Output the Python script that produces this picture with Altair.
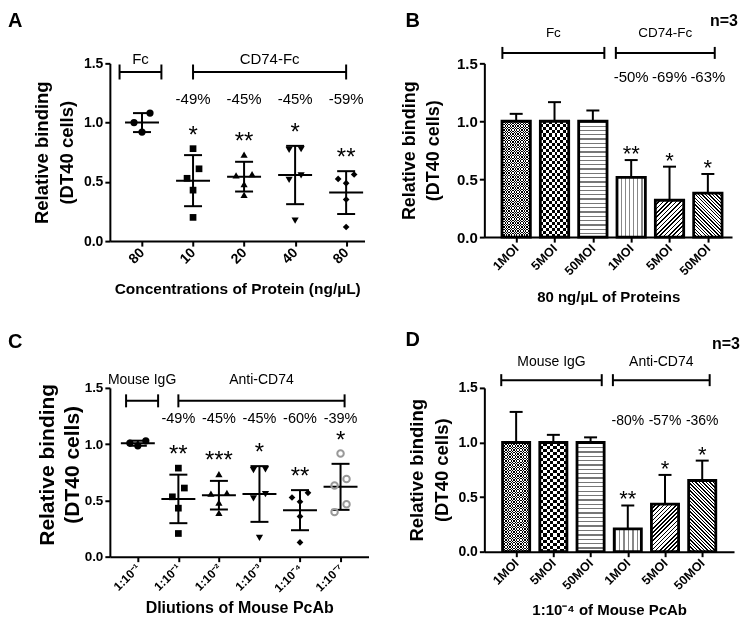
import json
import math
import altair as alt
import numpy as np
import pandas as pd

FONT = "Liberation Sans"

# ---------------- Panel A data ----------------
A_labels = ["80", "10", "20", "40", "80"]
A_fc_80 = [1.08, 1.00, 0.92]
A_cd74_10 = [0.78, 0.61, 0.53, 0.43, 0.20]
A_cd74_20 = [0.73, 0.565, 0.554, 0.48, 0.39]
A_cd74_40 = [0.775, 0.77, 0.554, 0.516, 0.173]
A_cd74_80 = [0.562, 0.525, 0.489, 0.351, 0.119]
A_series = [A_fc_80, A_cd74_10, A_cd74_20, A_cd74_40, A_cd74_80]
A_pct = ["", "-49%", "-45%", "-45%", "-59%"]
A_stars = ["", "*", "**", "*", "**"]
A_groups = ["Fc", "CD74-Fc"]
A_members = [[0], [1, 2, 3, 4]]
A_xtitle = "Concentrations of Protein (ng/µL)"

# ---------------- Panel B data ----------------
B_labels = ["1MOI", "5MOI", "50MOI", "1MOI", "5MOI", "50MOI"]
B_mean = [1.0, 1.0, 1.0, 0.515, 0.318, 0.38]
B_sd = [0.064, 0.165, 0.093, 0.15, 0.29, 0.165]
B_pct = ["", "", "", "-50%", "-69%", "-63%"]
B_stars = ["", "", "", "**", "*", "*"]
B_groups = ["Fc", "CD74-Fc"]
B_members = [[0, 1, 2], [3, 4, 5]]
B_xtitle = "80 ng/µL of Proteins"

# ---------------- Panel C data ----------------
C_labels = ["1:10⁻¹", "1:10⁻¹", "1:10⁻²", "1:10⁻³", "1:10⁻⁴", "1:10⁻⁷"]
C_igg = [1.03, 1.01, 0.985]
C_anti_1 = [0.787, 0.61, 0.532, 0.431, 0.206]
C_anti_2 = [0.734, 0.567, 0.561, 0.48, 0.39]
C_anti_3 = [0.775, 0.769, 0.555, 0.518, 0.168]
C_anti_4 = [0.567, 0.526, 0.488, 0.358, 0.127]
C_anti_7 = [0.917, 0.691, 0.633, 0.466, 0.396]
C_series = [C_igg, C_anti_1, C_anti_2, C_anti_3, C_anti_4, C_anti_7]
C_pct = ["", "-49%", "-45%", "-45%", "-60%", "-39%"]
C_stars = ["", "**", "***", "*", "**", "*"]
C_groups = ["Mouse IgG", "Anti-CD74"]
C_members = [[0], [1, 2, 3, 4, 5]]
C_xtitle = "Dliutions of Mouse PcAb"

# ---------------- Panel D data ----------------
D_labels = ["1MOI", "5MOI", "50MOI", "1MOI", "5MOI", "50MOI"]
D_mean = [1.0, 1.0, 1.0, 0.209, 0.435, 0.652]
D_sd = [0.28, 0.07, 0.047, 0.214, 0.268, 0.182]
D_pct = ["", "", "", "-80%", "-57%", "-36%"]
D_stars = ["", "", "", "**", "*", "*"]
D_groups = ["Mouse IgG", "Anti-CD74"]
D_members = [[0, 1, 2], [3, 4, 5]]
D_xtitle = "1:10⁻⁴ of Mouse PcAb"

Y_TITLE = ["Relative binding", "(DT40 cells)"]

# ---------------- layout / style ----------------
LAY = {
    "A": dict(W=255, H=178, xdom=(-0.63, 4.36), ytx=-68, yshift=0, ytfs=18.5, ylh=25,
              ylfs=14, xlfs=14, xtfs=15.5, xty=47, grp_fs=15, pct_fs=15, star_fs=24,
              star_dy=-6, lab_y=1.533, br_y=1.427, pct_y=1.2, br_half=7.5,
              letter=(-102, -52), pads=[(0.44, 0.38), (0.0, 0.0)]),
    "B": dict(W=248, H=174, xdom=(-0.70, 5.50), ytx=-75, yshift=0, ytfs=18, ylh=24,
              ylfs=15, xlfs=12.5, xtfs=15, xty=59, grp_fs=13.5, pct_fs=15, star_fs=22,
              star_dy=1, lab_y=1.766, br_y=1.59, pct_y=1.386, br_half=6,
              letter=(-79, -52), nlabel=-42, pads=[(0.36, 0.30), (0.40, 0.18)], bw=0.71),
    "C": dict(W=259, H=169, xdom=(-0.69, 5.69), ytx=-62, yshift=-8, ytfs=21, ylh=25,
              ylfs=13.5, xlfs=12, xtfs=16, xty=51, grp_fs=14, pct_fs=14.5, star_fs=24,
              star_dy=-6, lab_y=1.572, br_y=1.385, pct_y=1.225, br_half=6.5,
              letter=(-102, -56), pads=[(0.29, 0.5), (0.0, 0.1)]),
    "D": dict(W=250, H=164, xdom=(-0.72, 5.72), ytx=-68, yshift=0, ytfs=18.5, ylh=25,
              ylfs=14, xlfs=12.5, xtfs=15, xty=58, grp_fs=14, pct_fs=14, star_fs=22,
              star_dy=1, lab_y=1.736, br_y=1.571, pct_y=1.2, br_half=6,
              letter=(-79, -58), nlabel=-44, pads=[(0.40, 0.30), (0.40, 0.2)], bw=0.70),
}

C_MARKS = [
    dict(shape="circle", size=52, filled=True, color="black"),
    dict(shape="square", size=45, filled=True, color="black"),
    dict(shape="triangle-up", size=52, filled=True, color="black"),
    dict(shape="triangle-down", size=52, filled=True, color="black"),
    dict(shape="diamond", size=45, filled=True, color="black"),
    dict(shape="circle", size=42, filled=False, color="#999999", strokeWidth=2),
]

PATTERNS = ["fine", "checker", "hlines", "vlines", "diag_up", "diag_down"]


def lane_px(vals, thr=0.085):
    order = sorted(range(len(vals)), key=lambda i: -vals[i])
    clusters, cur = [], [order[0]]
    for i in order[1:]:
        if vals[cur[-1]] - vals[i] < thr:
            cur.append(i)
        else:
            clusters.append(cur)
            cur = [i]
    clusters.append(cur)
    pats = {1: [0], 2: [6, -6], 3: [8, -8, 0]}
    out = [0.0] * len(vals)
    for c in clusters:
        p = pats.get(len(c), [7 * (k - (len(c) - 1) / 2) for k in range(len(c))])
        for i, o in zip(c, p):
            out[i] = o
    return out


def axes(lay, labels, xtitle):
    W, H = lay["W"], lay["H"]
    n = len(labels)
    xaxis = alt.Axis(
        values=list(range(n)), labelExpr=f"{json.dumps(labels, ensure_ascii=False)}[datum.value]",
        labelAngle=315, labelAlign="right", labelBaseline="middle", labelPadding=4,
        labelFontSize=lay["xlfs"], labelFontWeight="bold", labelFlush=False, labelOverlap=False,
        tickSize=5, tickWidth=2, tickColor="black", domainColor="black", domainWidth=2,
        labelColor="black", grid=False, title=xtitle, titleFontSize=lay["xtfs"],
        titleFontWeight="bold", titleColor="black", titleX=W / 2, titleY=lay["xty"],
        titleAlign="center", titleBaseline="middle")
    yaxis = alt.Axis(
        values=[0, 0.5, 1.0, 1.5], format=".1f", labelFontSize=lay["ylfs"], labelFontWeight="bold",
        labelPadding=2, labelOverlap=False, labelFlush=False, tickSize=5, tickWidth=2,
        tickColor="black", domainColor="black", domainWidth=2, labelColor="black", grid=False,
        title=Y_TITLE, titleFontSize=lay["ytfs"], titleFontWeight="bold", titleColor="black",
        titleLineHeight=lay["ylh"], titleAngle=270, titleX=lay["ytx"], titleY=H / 2 + lay["yshift"],
        titleAlign="center", titleBaseline="middle")
    xs = alt.Scale(domain=list(lay["xdom"]), nice=False, zero=False)
    ys = alt.Scale(domain=[0, 1.5], nice=False, zero=True)

    def X(f):
        return alt.X(f, type="quantitative", scale=xs, axis=xaxis)

    def Y(f):
        return alt.Y(f, type="quantitative", scale=ys, axis=yaxis)

    return X, Y


def annotations(lay, X, Y, groups, members, pct, stars_df, letter, nlabel=None):
    layers = []
    rows = []
    for name, mem, (pl, pr) in zip(groups, members, lay["pads"]):
        bx1, bx2 = min(mem) - pl, max(mem) + pr
        rows.append(dict(name=name, bx1=bx1, bx2=bx2, bmid=(bx1 + bx2) / 2,
                         by=lay["br_y"], ly=lay["lab_y"]))
    br = pd.DataFrame(rows)
    h = lay["br_half"]
    layers.append(alt.Chart(br).mark_rule(color="black", strokeWidth=2).encode(
        x=X("bx1"), x2=alt.X2("bx2"), y=Y("by")))
    for f in ("bx1", "bx2"):
        layers.append(alt.Chart(br).mark_rule(color="black", strokeWidth=2, yOffset=-h, y2Offset=h).encode(
            x=X(f), y=Y("by"), y2=alt.Y2("by")))
    layers.append(alt.Chart(br).mark_text(fontSize=lay["grp_fs"], baseline="middle", color="black").encode(
        x=X("bmid"), y=Y("ly"), text="name:N"))
    layers.append(alt.Chart(stars_df).mark_text(fontSize=lay["pct_fs"], baseline="middle", color="black").encode(
        x=X("i"), y=Y("pct_y"), text="pct:N"))
    layers.append(alt.Chart(stars_df).mark_text(fontSize=lay["star_fs"], baseline="alphabetic",
                                                dy=lay["star_dy"], color="black").encode(
        x=X("i"), y=Y("top"), text="star:N"))
    lx, ly = lay["letter"]
    layers.append(alt.Chart(pd.DataFrame({"t": [letter]})).mark_text(
        fontSize=20, fontWeight="bold", align="left", baseline="top", color="black").encode(
        x=alt.value(lx), y=alt.value(ly), text="t:N"))
    if nlabel is not None:
        layers.append(alt.Chart(pd.DataFrame({"t": ["n=3"]})).mark_text(
            fontSize=16, fontWeight="bold", align="right", baseline="middle", color="black").encode(
            x=alt.value(lay["W"] + 6), y=alt.value(nlabel), text="t:N"))
    return layers


def scatter_panel(key, labels, series, pct, stars, groups, members, xtitle):
    lay = LAY[key]
    W, H = lay["W"], lay["H"]
    ppu = W / (lay["xdom"][1] - lay["xdom"][0])
    X, Y = axes(lay, labels, xtitle)
    pts = []
    for i, vals in enumerate(series):
        for v, o in zip(vals, lane_px(vals)):
            pts.append(dict(i=i, x=i + o / ppu, v=v))
    pts = pd.DataFrame(pts)
    mean = [float(np.mean(v)) for v in series]
    sd = [float(np.std(v, ddof=1)) for v in series]
    summ = pd.DataFrame(dict(i=range(len(series)), mean=mean,
                             lo=[m - s for m, s in zip(mean, sd)],
                             hi=[m + s for m, s in zip(mean, sd)],
                             top=[max(max(v), m + s) for v, m, s in zip(series, mean, sd)],
                             pct=pct, star=stars, pct_y=lay["pct_y"]))
    layers = [
        alt.Chart(summ).mark_rule(color="black", strokeWidth=2, xOffset=-17, x2Offset=17).encode(
            x=X("i"), x2=alt.X2("i"), y=Y("mean")),
        alt.Chart(summ).mark_rule(color="black", strokeWidth=2).encode(
            x=X("i"), y=Y("lo"), y2=alt.Y2("hi")),
        alt.Chart(summ).mark_rule(color="black", strokeWidth=2, xOffset=-9, x2Offset=9).encode(
            x=X("i"), x2=alt.X2("i"), y=Y("hi")),
        alt.Chart(summ).mark_rule(color="black", strokeWidth=2, xOffset=-9, x2Offset=9).encode(
            x=X("i"), x2=alt.X2("i"), y=Y("lo")),
    ]
    for g in range(len(series)):
        st = dict(C_MARKS[g])
        layers.append(alt.Chart(pts[pts.i == g]).mark_point(opacity=1, **st).encode(
            x=X("x"), y=Y("v")))
    layers += annotations(lay, X, Y, groups, members, pct, summ, key)
    return alt.layer(*layers).properties(width=W, height=H)


def grad(stops, x1, y1, x2, y2):
    return alt.LinearGradient(
        gradient="linear",
        stops=[alt.GradientStop(offset=o, color=c) for o, c in stops],
        x1=x1, y1=y1, x2=x2, y2=y2)


def stripe_stops(n, frac, c_line, c_bg):
    s = []
    for k in range(n):
        a, b, c = k / n, (k + frac) / n, (k + 1) / n
        s += [(a, c_line), (b, c_line), (b, c_bg), (c, c_bg)]
    return [(round(min(max(o, 0.0), 1.0), 6), col) for o, col in s]


def pattern_layers(kind, bw, hpx):
    if kind in ("fine", "checker"):
        p = 2.7 if kind == "fine" else 6.2
        nv, nh = max(1, round(bw / p)), max(1, round(hpx / p))
        base = grad(stripe_stops(nv, 0.5, "black", "white"), 0, 0, 1, 0)
        top = grad(stripe_stops(nh, 0.5, "white", "black"), 0, 0, 0, 1)
        return [(base, None), (top, "difference")]
    if kind == "hlines":
        n = max(1, round(hpx / 4.3))
        return [(grad(stripe_stops(n, 0.3, "#777777", "white"), 0, 0, 0, 1), None)]
    if kind == "vlines":
        n = max(1, round(bw / 4.2))
        return [(grad(stripe_stops(n, 0.3, "#888888", "white"), 0, 0, 1, 0), None)]
    p = 3.0 if kind == "diag_up" else 2.5
    s = (bw + hpx) / (bw * bw + hpx * hpx)
    n = max(1, round((bw + hpx) / math.sqrt(2) / p))
    stops = stripe_stops(n, 0.38, "black", "white")
    if kind == "diag_up":
        return [(grad(stops, 0, 0, bw * s, hpx * s), None)]
    return [(grad(stops, 1, 0, 1 - bw * s, hpx * s), None)]


def bar_panel(key, labels, means, sds, pct, stars, groups, members, xtitle):
    lay = LAY[key]
    W, H = lay["W"], lay["H"]
    ppu = W / (lay["xdom"][1] - lay["xdom"][0])
    bw = lay["bw"] * ppu
    X, Y = axes(lay, labels, xtitle)
    df = pd.DataFrame(dict(i=range(len(means)), mean=means,
                           top=[m + s for m, s in zip(means, sds)],
                           pct=pct, star=stars, pct_y=lay["pct_y"]))
    layers = []
    for i, kind in enumerate(PATTERNS):
        hpx = means[i] / 1.5 * H
        for g, blend in pattern_layers(kind, bw, hpx):
            kw = dict(size=bw, fill=g, strokeWidth=0, opacity=1)
            if blend:
                kw["blend"] = blend
            layers.append(alt.Chart(df.iloc[[i]]).mark_bar(**kw).encode(
                x=X("i"), y=Y("mean"), y2=alt.Y2(datum=0)))
    layers.append(alt.Chart(df).mark_bar(size=bw, fill="transparent", stroke="black", strokeWidth=2.8).encode(
        x=X("i"), y=Y("mean"), y2=alt.Y2(datum=0)))
    layers.append(alt.Chart(df).mark_rule(color="black", strokeWidth=2).encode(
        x=X("i"), y=Y("mean"), y2=alt.Y2("top")))
    layers.append(alt.Chart(df).mark_rule(color="black", strokeWidth=2, xOffset=-6.5, x2Offset=6.5).encode(
        x=X("i"), x2=alt.X2("i"), y=Y("top")))
    layers += annotations(lay, X, Y, groups, members, pct, df, key, nlabel=lay["nlabel"])
    return alt.layer(*layers).properties(width=W, height=H)


pA = scatter_panel("A", A_labels, A_series, A_pct, A_stars, A_groups, A_members, A_xtitle)
pB = bar_panel("B", B_labels, B_mean, B_sd, B_pct, B_stars, B_groups, B_members, B_xtitle)
pC = scatter_panel("C", C_labels, C_series, C_pct, C_stars, C_groups, C_members, C_xtitle)
pD = bar_panel("D", D_labels, D_mean, D_sd, D_pct, D_stars, D_groups, D_members, D_xtitle)

chart = (
    alt.concat(pA, pB, pC, pD, columns=2, spacing={"row": 147, "column": 116}, bounds="flush")
    .properties(padding={"left": 0, "top": 3, "right": 2, "bottom": 0})
    .configure(font=FONT)
    .configure_view(stroke=None)
)

chart.save("out.html", embed_options={"renderer": "svg", "actions": False})
